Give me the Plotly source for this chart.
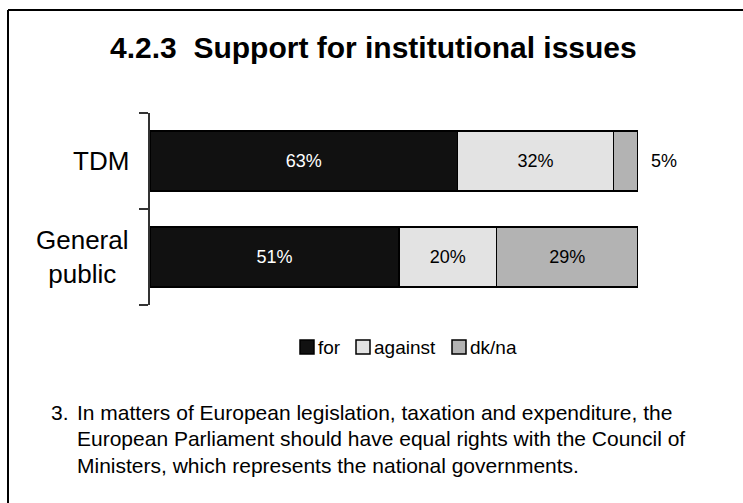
import plotly.graph_objects as go

# Survey results (percent)
groups = ["TDM", "General public"]
group_labels = ["TDM", "General<br>public"]
series_names = ["for", "against", "dk/na"]
for_vals = [63, 51]
against_vals = [32, 20]
dkna_vals = [5, 29]

title_text = "4.2.3  Support for institutional issues"
note_number = "3."
note_lines = [
    "In matters of European legislation, taxation and expenditure, the",
    "European Parliament should have equal rights with the Council of",
    "Ministers, which represents the national governments.",
]

colors = ["#111111", "#e3e3e3", "#b3b3b3"]
text_colors = ["white", "black", "black"]
FONT = "Arial, Liberation Sans, sans-serif"

W, H = 743, 503
L, R, T, B = 150, 638, 113, 305


def px(x):
    return (x - L) / (R - L)


def py(y):
    return (B - y) / (B - T)


fig = go.Figure()
values = [for_vals, against_vals, dkna_vals]
for name, vals, col, tcol in zip(series_names, values, colors, text_colors):
    positions = ["inside"] * len(vals)
    labels = [f"{v}%" for v in vals]
    if name == "dk/na":
        positions = ["outside" if v < 10 else "inside" for v in vals]
        labels = [("  " if p == "outside" else "") + t for p, t in zip(positions, labels)]
    fig.add_trace(go.Bar(
        name=name,
        y=groups,
        x=vals,
        orientation="h",
        marker=dict(color=col, line=dict(color="black", width=1.5)),
        width=0.63,
        text=labels,
        textposition=positions,
        insidetextanchor="middle",
        textangle=0,
        constraintext="none",
        insidetextfont=dict(color=tcol, size=18, family=FONT),
        outsidetextfont=dict(color="black", size=18, family=FONT),
        showlegend=False,
        cliponaxis=False,
    ))

annotations = []
# Title
annotations.append(dict(
    text=f"<b>{title_text}</b>", xref="paper", yref="paper",
    x=px(373), y=py(47), xanchor="center", yanchor="middle",
    showarrow=False, font=dict(size=30, family=FONT, color="black"),
))
# Category labels
for g, lab in zip(groups, group_labels):
    annotations.append(dict(
        text=lab, xref="paper", yref="y", x=px(131), y=g,
        xanchor="right", yanchor="middle", align="center",
        showarrow=False, font=dict(size=26, family=FONT, color="black"),
    ))

# Legend
shapes = []
legend_sq = [300, 356, 452]
for name, col, sx in zip(series_names, colors, legend_sq):
    shapes.append(dict(
        type="rect", xref="paper", yref="paper",
        x0=px(sx), x1=px(sx + 14), y0=py(354), y1=py(340),
        fillcolor=col, line=dict(color="black", width=1.5),
    ))
    annotations.append(dict(
        text=name, xref="paper", yref="paper", x=px(sx + 16), y=py(347),
        xanchor="left", yanchor="middle", showarrow=False,
        font=dict(size=19, family=FONT, color="black"),
    ))

# Footnote
annotations.append(dict(
    text=note_number, xref="paper", yref="paper", x=px(49), y=py(412),
    xanchor="left", yanchor="middle", showarrow=False,
    font=dict(size=21, family=FONT, color="black"),
))
for i, line in enumerate(note_lines):
    annotations.append(dict(
        text=line, xref="paper", yref="paper", x=px(75), y=py(412 + 26.8 * i),
        xanchor="left", yanchor="middle", showarrow=False,
        font=dict(size=21, family=FONT, color="black"),
    ))

# Frame lines (top and left)
shapes.append(dict(type="line", xref="paper", yref="paper",
                   x0=px(8), x1=px(W + 5), y0=py(10), y1=py(10),
                   line=dict(color="black", width=2)))
shapes.append(dict(type="line", xref="paper", yref="paper",
                   x0=px(8), x1=px(8), y0=py(10), y1=py(H + 5),
                   line=dict(color="black", width=2)))

fig.update_layout(
    width=W, height=H,
    margin=dict(l=L, r=W - R, t=T, b=H - B),
    barmode="stack",
    paper_bgcolor="white", plot_bgcolor="white",
    annotations=annotations, shapes=shapes,
    showlegend=False,
    font=dict(family=FONT, color="black"),
)
fig.update_xaxes(range=[0, 100], visible=False, fixedrange=True)
fig.update_yaxes(
    type="category", categoryorder="array", categoryarray=groups[::-1],
    range=[-0.5, 1.5], showticklabels=False, ticks="outside",
    tickson="boundaries", ticklen=9, tickcolor="#333333", tickwidth=1.5,
    showline=True, linecolor="#333333", linewidth=1.5,
    showgrid=False, zeroline=False, fixedrange=True,
)

fig.write_html("out.html")
